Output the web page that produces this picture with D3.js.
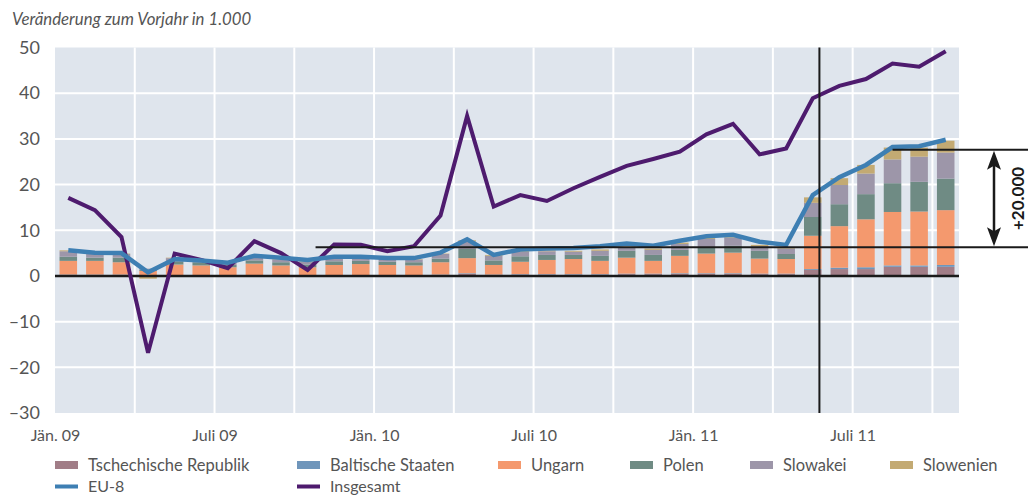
<!DOCTYPE html>
<html>
<head>
<meta charset="utf-8">
<script src="https://cdn.jsdelivr.net/npm/d3@7"></script>
<style>
	body { margin: 0; background: #fff; }
	svg { display: block; font-family: Lato, 'Open Sans', sans-serif; }
</style>
</head>
<body>
<div id="container"></div>
<script>
// Monate Jän. 09 bis Okt. 11
let months = d3.range(34).map(i => d3.timeMonth.offset(new Date(2009, 0, 1), i));
let tickMonths = [0, 6, 12, 18, 24, 30];
let tickLabels = ['Jän. 09', 'Juli 09', 'Jän. 10', 'Juli 10', 'Jän. 11', 'Juli 11'];
let yTicks = [-30, -20, -10, 0, 10, 20, 30, 40, 50];

let countries = ['Tschechische Republik', 'Baltische Staaten', 'Ungarn', 'Polen', 'Slowakei', 'Slowenien'];
let tschechien = [0.2, 0.2, 0.2, 0.1, 0.1, 0.1, 0.1, 0.1, 0.1, 0.1, 0.1, 0.1, 0.1, 0.1, 0.2, 0.5, 0.2, 0.3, 0.3, 0.3, 0.3, 0.4, 0.4, 0.5, 0.5, 0.5, 0.4, 0.4, 1.3, 1.5, 1.5, 2.0, 2.0, 2.0];
let baltikum = [0.1, 0.1, 0.1, 0.0, 0.1, 0.1, 0.0, 0.1, 0.1, 0.0, 0.1, 0.1, 0.1, 0.1, 0.1, 0.1, 0.1, 0.1, 0.1, 0.1, 0.1, 0.1, 0.1, 0.1, 0.1, 0.1, 0.1, 0.1, 0.2, 0.3, 0.4, 0.3, 0.3, 0.4];
let ungarn = [3.0, 3.0, 2.7, 1.0, 2.3, 2.1, 1.8, 2.5, 2.1, 1.8, 2.2, 2.4, 2.2, 2.1, 2.7, 3.3, 2.1, 2.7, 3.1, 3.3, 2.9, 3.5, 2.8, 3.8, 4.3, 4.5, 3.3, 3.2, 7.3, 9.1, 10.5, 11.7, 11.8, 12.0];
let polen = [0.9, 0.7, 1.0, 0.3, 0.7, 0.7, 0.5, 0.7, 0.7, 0.6, 0.8, 0.7, 0.7, 0.7, 0.8, 2.0, 1.0, 1.2, 1.1, 0.9, 1.1, 1.5, 1.3, 1.3, 1.3, 1.5, 1.7, 1.1, 4.1, 4.8, 5.5, 6.3, 6.5, 6.9];
let slowakei = [1.2, 0.9, 0.8, 0.2, 0.7, 0.5, 0.6, 0.7, 0.6, 0.6, 0.6, 0.6, 0.7, 0.6, 1.0, 1.6, 1.0, 1.0, 0.8, 0.7, 1.1, 0.7, 1.1, 1.3, 1.9, 1.8, 1.0, 1.2, 3.1, 4.2, 4.5, 5.2, 5.5, 5.7];
let slowenien = [0.2, 0.1, 0.1, -0.6, 0.1, 0.1, 0.1, 0.1, 0.1, 0.1, 0.1, 0.1, 0.1, 0.1, 0.1, 0.3, 0.2, 0.2, 0.2, 0.2, 0.3, 0.2, 0.3, 0.3, 0.2, 0.2, 0.3, 0.3, 1.2, 1.5, 1.9, 2.6, 2.0, 2.6];
let eu8 = [5.6, 5.1, 5.0, 0.8, 3.7, 3.4, 2.9, 4.4, 4.0, 3.5, 4.2, 4.2, 3.9, 3.9, 5.1, 8.0, 4.6, 5.8, 6.0, 6.1, 6.5, 7.1, 6.6, 7.7, 8.7, 9.0, 7.5, 6.8, 17.7, 21.6, 24.3, 28.2, 28.4, 29.8];
let insgesamt = [17.1, 14.4, 8.5, -16.8, 4.9, 3.5, 1.7, 7.6, 5.0, 1.3, 6.9, 6.8, 5.4, 6.5, 13.2, 35.0, 15.2, 17.7, 16.4, 19.2, 21.7, 24.1, 25.6, 27.2, 31.0, 33.3, 26.6, 27.9, 38.9, 41.6, 43.1, 46.5, 45.8, 49.2];

// Markierungen: Öffnung des Arbeitsmarkts, Niveau davor und danach
let openingMonth = 28.75;
let levelBefore = 6.3;
let levelAfter = 27.6;
let levelStart = [9.8, 31.5];
let annotationText = '+20.000';
let title = 'Veränderung zum Vorjahr in 1.000';

window.onload = function () {
	'use strict';
	let options = {
		width: 1028,
		height: 497,
		left: 55,
		right: 959,
		top: 47.5,
		bottom: 413,
		bgcolor: '#dfe5ed',
		text: '#555',
	};
	let colors = ['#a17d87', '#6f96bb', '#f4996e', '#6f8b84', '#9d96a9', '#c3aa73'];
	let lineColors = { eu8: '#3e7fb3', insgesamt: '#4e1b6e' };

	let svg = d3.select('#container')
		.append('svg')
		.attr('width', options.width)
		.attr('height', options.height);

	let x = d3.scaleBand()
		.domain(d3.range(months.length))
		.range([options.left, options.right])
		.paddingInner(0.34)
		.paddingOuter(0.17);
	let xPos = d3.scaleLinear().domain([0, months.length]).range([options.left, options.right]);
	let y = d3.scaleLinear().domain([-30, 50]).range([options.bottom, options.top]);
	let xc = i => x(i) + x.bandwidth() / 2;

	svg.append('rect')
		.attr('x', options.left)
		.attr('y', options.top)
		.attr('width', options.right - options.left)
		.attr('height', options.bottom - options.top)
		.attr('fill', options.bgcolor);

	// Gitter
	svg.selectAll('.hgrid')
		.data(yTicks.filter(t => t !== 0 && t !== 50 && t !== -30))
		.enter()
		.append('line')
		.attr('x1', options.left)
		.attr('x2', options.right)
		.attr('y1', d => y(d))
		.attr('y2', d => y(d))
		.attr('stroke', '#fff')
		.attr('stroke-width', 2);
	svg.selectAll('.vgrid')
		.data(d3.range(3, months.length, 3))
		.enter()
		.append('line')
		.attr('x1', d => xPos(d))
		.attr('x2', d => xPos(d))
		.attr('y1', options.top)
		.attr('y2', options.bottom)
		.attr('stroke', '#fff')
		.attr('stroke-width', 2);

	// Achsen
	let yAxis = d3.axisLeft(y)
		.tickValues(yTicks)
		.tickSize(0)
		.tickPadding(15)
		.tickFormat(d => (d < 0 ? '–' + Math.abs(d) : d));
	let yg = svg.append('g').attr('transform', 'translate(' + options.left + ',0)').call(yAxis);
	yg.select('.domain').remove();
	yg.selectAll('text')
		.attr('fill', options.text)
		.attr('font-size', 18)
		.attr('font-family', 'Lato, sans-serif');

	let xAxis = d3.axisBottom(xPos)
		.tickValues(tickMonths)
		.tickSize(0)
		.tickPadding(17)
		.tickFormat((d, i) => tickLabels[i]);
	let xg = svg.append('g').attr('transform', 'translate(0,' + options.bottom + ')').call(xAxis);
	xg.select('.domain').remove();
	xg.selectAll('text')
		.attr('fill', options.text)
		.attr('font-size', 16)
		.attr('font-family', 'Lato, sans-serif');

	// gestapelte Balken
	let table = months.map((m, i) => ({
		'Tschechische Republik': tschechien[i],
		'Baltische Staaten': baltikum[i],
		'Ungarn': ungarn[i],
		'Polen': polen[i],
		'Slowakei': slowakei[i],
		'Slowenien': slowenien[i],
	}));
	let series = d3.stack()
		.keys(countries)
		.offset(d3.stackOffsetDiverging)(table);

	svg.selectAll('.layer')
		.data(series)
		.enter()
		.append('g')
		.attr('fill', (d, i) => colors[i])
		.selectAll('rect')
		.data(d => d)
		.enter()
		.append('rect')
		.attr('x', (d, i) => x(i))
		.attr('width', x.bandwidth())
		.attr('y', d => y(Math.max(d[0], d[1])))
		.attr('height', d => Math.abs(y(d[0]) - y(d[1])));

	// Nulllinie
	svg.append('line')
		.attr('x1', options.left)
		.attr('x2', options.right)
		.attr('y1', y(0))
		.attr('y2', y(0))
		.attr('stroke', '#1a1a1a')
		.attr('stroke-width', 2.5);

	// Linien
	let line = d3.line().x((d, i) => xc(i)).y(d => y(d));
	svg.append('path')
		.datum(insgesamt)
		.attr('d', line)
		.attr('fill', 'none')
		.attr('stroke', lineColors.insgesamt)
		.attr('stroke-width', 4)
		.attr('stroke-linejoin', 'miter');
	svg.append('path')
		.datum(eu8)
		.attr('d', line)
		.attr('fill', 'none')
		.attr('stroke', lineColors.eu8)
		.attr('stroke-width', 4.5);

	// Öffnung Mai 2011
	svg.append('line')
		.attr('x1', xPos(openingMonth))
		.attr('x2', xPos(openingMonth))
		.attr('y1', options.top)
		.attr('y2', options.bottom)
		.attr('stroke', '#1a1a1a')
		.attr('stroke-width', 2);

	// Niveaulinien
	svg.selectAll('.level')
		.data([levelBefore, levelAfter])
		.enter()
		.append('line')
		.attr('x1', (d, i) => xPos(levelStart[i]))
		.attr('x2', options.width)
		.attr('y1', d => y(d))
		.attr('y2', d => y(d))
		.attr('stroke', '#1a1a1a')
		.attr('stroke-width', 2);

	// Doppelpfeil
	let ax = 994;
	let y1 = y(levelAfter) + 1;
	let y2 = y(levelBefore) - 1;
	svg.append('line')
		.attr('x1', ax).attr('x2', ax)
		.attr('y1', y1 + 10).attr('y2', y2 - 10)
		.attr('stroke', '#1a1a1a')
		.attr('stroke-width', 2.5);
	svg.append('path')
		.attr('d', 'M' + ax + ',' + y1 + 'L' + (ax + 7) + ',' + (y1 + 19) + 'L' + ax + ',' + (y1 + 15) + 'L' + (ax - 7) + ',' + (y1 + 19) + 'Z')
		.attr('fill', '#1a1a1a');
	svg.append('path')
		.attr('d', 'M' + ax + ',' + y2 + 'L' + (ax + 7) + ',' + (y2 - 19) + 'L' + ax + ',' + (y2 - 15) + 'L' + (ax - 7) + ',' + (y2 - 19) + 'Z')
		.attr('fill', '#1a1a1a');
	svg.append('text')
		.attr('transform', 'translate(1018,' + ((y1 + y2) / 2) + ') rotate(-90)')
		.attr('text-anchor', 'middle')
		.attr('dy', '0.35em')
		.attr('font-size', 17)
		.attr('font-weight', 700)
		.attr('fill', '#1a1a1a')
		.text(annotationText);

	// Titel
	svg.append('text')
		.attr('x', 12)
		.attr('y', 25)
		.attr('font-size', 16.8)
		.attr('font-style', 'italic')
		.attr('fill', options.text)
		.text(title);

	// Legende
	let legendX = [55, 297, 498, 630, 750, 890];
	countries.forEach((c, i) => {
		svg.append('rect')
			.attr('x', legendX[i])
			.attr('y', 461)
			.attr('width', 23)
			.attr('height', 8)
			.attr('fill', colors[i]);
		svg.append('text')
			.attr('x', legendX[i] + 33)
			.attr('y', 465)
			.attr('dy', '0.35em')
			.attr('font-size', 16.5)
			.attr('fill', options.text)
			.text(c);
	});
	[['EU-8', lineColors.eu8], ['Insgesamt', lineColors.insgesamt]].forEach((l, i) => {
		svg.append('rect')
			.attr('x', legendX[i])
			.attr('y', 484.5)
			.attr('width', 23)
			.attr('height', 4)
			.attr('fill', l[1]);
		svg.append('text')
			.attr('x', legendX[i] + 33)
			.attr('y', 486.5)
			.attr('dy', '0.35em')
			.attr('font-size', 16)
			.attr('fill', options.text)
			.text(l[0]);
	});
};
</script>
</body>
</html>
